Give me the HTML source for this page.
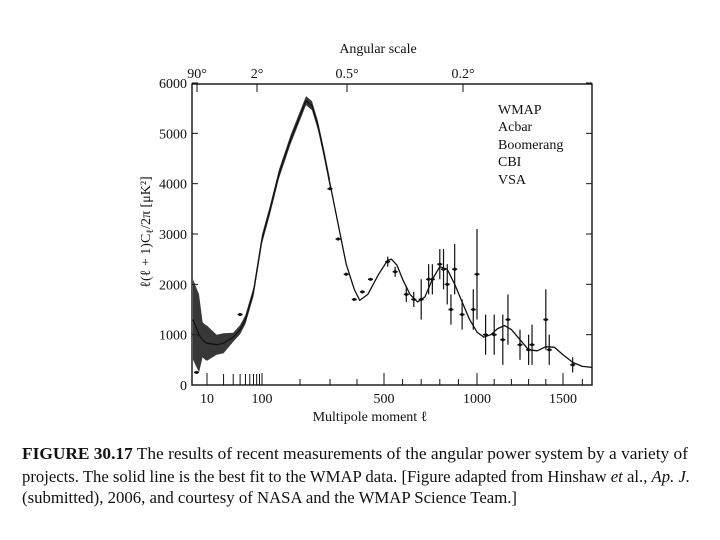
<!DOCTYPE html>
<html><head><meta charset="utf-8"><style>
body{margin:0;background:#fff;width:720px;height:540px;overflow:hidden}
svg{display:block}
text{font-family:"Liberation Serif",serif;fill:#111}
</style></head><body>
<svg id="c" width="720" height="540">
<g id="frame"></g>
<g id="marks"></g>
<text x="378" y="53" font-size="14" text-anchor="middle">Angular scale</text>
<text x="370" y="421" font-size="14" text-anchor="middle">Multipole moment ℓ</text>
<text transform="translate(150,232) rotate(-90)" font-size="14" text-anchor="middle">ℓ(ℓ + 1)C<tspan font-size="10" dy="3">ℓ</tspan><tspan dy="-3">/2π [μK²]</tspan></text>
<g font-size="14">
<text x="498" y="114">WMAP</text>
<text x="498" y="131">Acbar</text>
<text x="498" y="149">Boomerang</text>
<text x="498" y="166">CBI</text>
<text x="498" y="184">VSA</text>
</g>
<g font-size="16.5">
<text x="22" y="459" textLength="666" lengthAdjust="spacingAndGlyphs"><tspan font-weight="bold">FIGURE 30.17</tspan>   The results of recent measurements of the angular power system by a variety of</text>
<text x="22" y="482" textLength="668" lengthAdjust="spacingAndGlyphs">projects. The solid line is the best fit to the WMAP data. [Figure adapted from Hinshaw <tspan font-style="italic">et</tspan> al., <tspan font-style="italic">Ap. J.</tspan></text>
<text x="22" y="503" textLength="495" lengthAdjust="spacingAndGlyphs">(submitted), 2006, and courtesy of NASA and the WMAP Science Team.]</text>
</g>
</svg>
<script>
const yTicks=[0,1000,2000,3000,4000,5000,6000];
const xTickLabels=[10,100,500,1000,1500];
const topTickLabels=["90°","2°","0.5°","0.2°"];
const curveL=[2,4,6,8,10,15,20,30,40,50,70,100,120,145,175,200,220,240,260,280,300,330,360,390,410,440,480,520,540,570,600,640,680,720,760,800,840,880,920,960,1000,1040,1080,1120,1160,1200,1250,1300,1350,1400,1450,1500,1550,1600,1650];
const curveD=[1300,1000,900,850,830,800,830,950,1100,1300,1850,2900,3450,4200,4870,5350,5650,5550,5150,4600,4000,3200,2400,1900,1680,1800,2200,2480,2500,2380,2100,1800,1650,1750,2100,2350,2300,2000,1650,1300,1050,950,1000,1120,1180,1100,900,700,680,760,750,600,450,370,350];
const ptL=[3,40,300,330,360,390,420,450,520,560,620,660,700,740,760,800,820,840,860,880,920,980,1000,1050,1100,1150,1180,1250,1300,1320,1400,1420,1550];
const ptD=[250,1400,3900,2900,2200,1700,1850,2100,2450,2250,1800,1700,1700,2100,2100,2400,2300,2000,1500,2300,1400,1500,2200,1000,1000,900,1300,800,700,800,1300,700,400];
const ptE=[0,0,0,0,0,0,0,0,100,100,150,150,400,300,300,300,400,400,300,500,300,400,900,400,400,500,500,300,300,400,600,300,150];
const xa=[[2,193],[10,207],[100,262],[200,300],[300,330],[400,357],[500,384],[1000,477],[1500,563],[1650,592]];
function X(l){for(let i=1;i<xa.length;i++){const[a,pa]=xa[i-1],[b,pb]=xa[i];if(l<=b||i==xa.length-1){if(l<=100)return pa+(pb-pa)*(Math.log10(Math.max(l,1.5))-Math.log10(a))/(Math.log10(b)-Math.log10(a));return pa+(pb-pa)*(l-a)/(b-a);}}}
function Y(d){return 385-d*(302/6000);}
function W(l){return l<=4?800:l<=10?350:l<=20?200:90;}
const NS="http://www.w3.org/2000/svg";
function mk(p,t,at){const e=document.createElementNS(NS,t);for(const k in at)e.setAttribute(k,at[k]);p.appendChild(e);return e;}
const fr=document.getElementById('frame'),mg=document.getElementById('marks');
const r=mk(fr,'rect',{x:192,y:84,width:400,height:301,fill:'none',stroke:'#111','stroke-width':1.4});

yTicks.forEach(v=>{const y=Y(v);
 const l=mk(fr,'line',{x1:192,x2:198,y1:y,y2:y,stroke:'#111'});
 const l2=mk(fr,'line',{x1:586,x2:592,y1:y,y2:y,stroke:'#111'});
 const t=mk(fr,'text',{x:187,y:y+5,'font-size':14,'text-anchor':'end'});t.textContent=v;});
[20,30,40,50,60,70,80,90,200,300,400,600,700,800,900,1100,1200,1300,1400,1600].forEach(v=>{const x=X(v);const l=mk(fr,'line',{x1:x,x2:x,y1:385,y2:v<100?374:379,stroke:'#111'});});
xTickLabels.forEach(v=>{const x=X(v);const l=mk(fr,'line',{x1:x,x2:x,y1:385,y2:373,stroke:'#111'});
 const t=mk(fr,'text',{x:x,y:403,'font-size':14,'text-anchor':'middle'});t.textContent=v;});
topTickLabels.forEach((s,i)=>{const x=[197,257,347,463][i];const l=mk(fr,'line',{x1:x,x2:x,y1:84,y2:92,stroke:'#111'});
 const t=mk(fr,'text',{x:x,y:78,'font-size':14,'text-anchor':'middle'});t.textContent=s;});
const lim=curveL.findIndex(l=>l>320);
let band='';for(let i=0;i<lim;i++){band+=(i?'L':'M')+X(curveL[i]).toFixed(1)+','+Y(curveD[i]+W(curveL[i])).toFixed(1);}
for(let i=lim-1;i>=0;i--){band+='L'+X(curveL[i]).toFixed(1)+','+Y(Math.max(curveD[i]-W(curveL[i]),250)).toFixed(1);}
const b=mk(mg,'path',{d:band+'Z',fill:'#222',opacity:0.9});
let d='';curveL.forEach((l,i)=>{d+=(i?'L':'M')+X(l).toFixed(1)+','+Y(curveD[i]).toFixed(1);});
const c=mk(mg,'path',{d:d,fill:'none',stroke:'#111','stroke-width':1.3,'stroke-linejoin':'round'});
ptL.forEach((l,i)=>{const x=X(l),y=Y(ptD[i]),e=ptE[i]*302/6000;
 const g=mk(mg,'g',{});
 if(e>0)mk(g,'line',{x1:x,x2:x,y1:y-e,y2:y+e,stroke:'#111','stroke-width':1.2});
 mk(g,'line',{x1:x-2.5,x2:x+2.5,y1:y,y2:y,stroke:'#111','stroke-width':1.5});
 mk(g,'circle',{cx:x,cy:y,r:1.6,fill:'#111'});});
</script>
</body></html>
